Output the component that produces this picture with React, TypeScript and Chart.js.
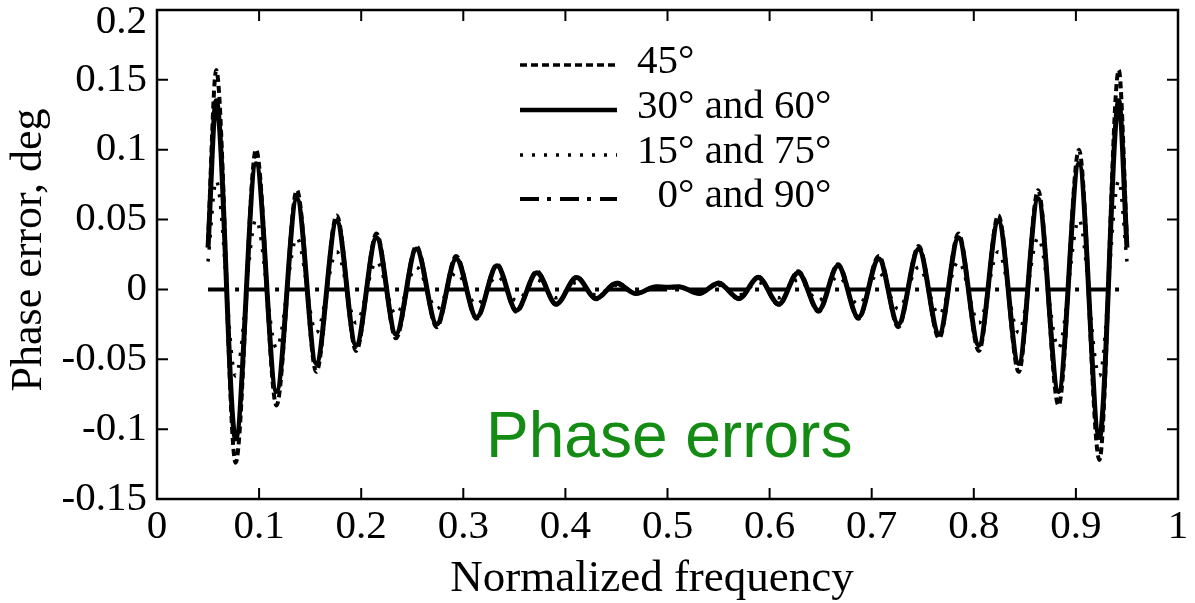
import React, { useEffect, useRef } from 'react';
import { Chart, registerables } from 'chart.js';

Chart.register(...registerables);

// Normalized frequency sample positions (peaks / troughs of the ripple)
const freq = [
  0.05, 0.058, 0.077, 0.097, 0.117, 0.137, 0.156, 0.176, 0.195, 0.215, 0.234, 0.254,
  0.274, 0.293, 0.313, 0.333, 0.352, 0.372, 0.391, 0.411, 0.43, 0.45, 0.469, 0.489, 0.5,
  0.511, 0.531, 0.55, 0.57, 0.589, 0.609, 0.628, 0.648, 0.667, 0.687, 0.707, 0.726,
  0.746, 0.766, 0.785, 0.805, 0.824, 0.844, 0.863, 0.883, 0.903, 0.923, 0.942, 0.95,
];

const err45 = [
  0.035, 0.157, -0.124, 0.1, -0.083, 0.071, -0.059, 0.053, -0.044, 0.04, -0.035, 0.031,
  -0.027, 0.024, -0.021, 0.018, -0.016, 0.013, -0.011, 0.009, -0.007, 0.005, -0.003, 0.002, 0.0015,
  0.002, -0.003, 0.005, -0.007, 0.009, -0.011, 0.013, -0.016, 0.018, -0.021, 0.024, -0.027,
  0.031, -0.035, 0.04, -0.044, 0.053, -0.059, 0.071, -0.083, 0.1, -0.122, 0.157, 0.035,
];

const err30and60 = [
  0.03, 0.135, -0.107, 0.09, -0.073, 0.065, -0.053, 0.049, -0.04, 0.037, -0.032, 0.029,
  -0.025, 0.022, -0.02, 0.017, -0.015, 0.012, -0.0105, 0.0085, -0.0065, 0.0045, -0.003, 0.002, 0.0015,
  0.002, -0.003, 0.0045, -0.0065, 0.0085, -0.0105, 0.012, -0.015, 0.017, -0.02, 0.022, -0.025,
  0.029, -0.032, 0.037, -0.04, 0.049, -0.053, 0.065, -0.073, 0.09, -0.106, 0.135, 0.03,
];

const err15and75 = [
  0.02, 0.078, -0.062, 0.05, -0.042, 0.037, -0.031, 0.027, -0.024, 0.02, -0.018, 0.016,
  -0.014, 0.012, -0.011, 0.0095, -0.008, 0.007, -0.006, 0.005, -0.004, 0.003, -0.002, 0.0012, 0.001,
  0.0012, -0.002, 0.003, -0.004, 0.005, -0.006, 0.007, -0.008, 0.0095, -0.011, 0.012, -0.014,
  0.016, -0.018, 0.02, -0.024, 0.027, -0.031, 0.037, -0.042, 0.05, -0.062, 0.078, 0.02,
];

const freq0and90 = [0.05, 0.95];
const err0and90 = [0, 0];

const xTicks = [0, 0.1, 0.2, 0.3, 0.4, 0.5, 0.6, 0.7, 0.8, 0.9, 1];
const yTicks = [-0.15, -0.1, -0.05, 0, 0.05, 0.1, 0.15, 0.2];

const legendLabels = ['45°', '30° and 60°', '15° and 75°', '  0° and 90°'];

const SERIF = '"Liberation Serif", "Times New Roman", serif';

const DASH45 = [7, 4];
const DOT = [3, 9];
const DASHDOT = [19, 8, 4, 9];

function pts(xs: number[], ys: number[]) {
  return xs.map((x, i) => ({ x, y: ys[i] }));
}

function fmt(v: number) {
  return String(Math.round(v * 100) / 100);
}

const decorPlugin = {
  id: 'decor',
  afterDraw(chart: any) {
    const { ctx, chartArea: a, scales } = chart;
    const x = scales.x;
    const y = scales.y;
    ctx.save();
    // frame
    ctx.strokeStyle = '#000';
    ctx.lineWidth = 2.5;
    ctx.setLineDash([]);
    ctx.strokeRect(a.left, a.top, a.right - a.left, a.bottom - a.top);
    // inward ticks
    ctx.lineWidth = 2;
    const tl = 11;
    ctx.beginPath();
    xTicks.forEach((v) => {
      const px = x.getPixelForValue(v);
      ctx.moveTo(px, a.bottom);
      ctx.lineTo(px, a.bottom - tl);
      ctx.moveTo(px, a.top);
      ctx.lineTo(px, a.top + tl);
    });
    yTicks.forEach((v) => {
      const py = y.getPixelForValue(v);
      ctx.moveTo(a.left, py);
      ctx.lineTo(a.left + tl, py);
      ctx.moveTo(a.right, py);
      ctx.lineTo(a.right - tl, py);
    });
    ctx.stroke();

    // top y tick label, kept inside the figure
    ctx.fillStyle = '#000';
    ctx.font = `41px ${SERIF}`;
    ctx.textAlign = 'right';
    ctx.textBaseline = 'middle';
    ctx.fillText(fmt(yTicks[yTicks.length - 1]), a.left - 10, a.top + 12);

    // legend
    const rows = [65, 110, 155, 199];
    const styles = [
      { dash: DASH45, w: 3.5 },
      { dash: [], w: 4.5 },
      { dash: DOT, w: 3.5 },
      { dash: DASHDOT, w: 4 },
    ];
    ctx.font = `41px ${SERIF}`;
    ctx.textBaseline = 'alphabetic';
    ctx.textAlign = 'left';
    rows.forEach((ry, i) => {
      ctx.lineWidth = styles[i].w;
      ctx.setLineDash(styles[i].dash);
      ctx.beginPath();
      ctx.moveTo(520, ry);
      ctx.lineTo(617, ry);
      ctx.stroke();
      ctx.setLineDash([]);
      ctx.fillText(legendLabels[i], 637, ry + 8);
    });

    // green annotation
    ctx.font = '64px "Liberation Sans", Arial, sans-serif';
    ctx.fillStyle = 'rgb(20,140,20)';
    ctx.fillText('Phase errors', 486, 457);

    // axis titles
    ctx.fillStyle = '#000';
    ctx.font = `45px ${SERIF}`;
    ctx.textAlign = 'center';
    ctx.fillText('Normalized frequency', 652, 591);
    ctx.save();
    ctx.font = `44px ${SERIF}`;
    ctx.translate(41, 250);
    ctx.rotate(-Math.PI / 2);
    ctx.fillText('Phase error, deg', 0, 0);
    ctx.restore();

    ctx.restore();
  },
};

export default function App() {
  const ref = useRef<HTMLCanvasElement | null>(null);
  useEffect(() => {
    if (!ref.current) return;
    const chart = new Chart(ref.current, {
      type: 'line',
      data: {
        datasets: [
          {
            label: '0° and 90°',
            data: pts(freq0and90, err0and90),
            borderColor: '#000',
            borderWidth: 4,
            borderDash: DASHDOT,
            pointRadius: 0,
            fill: false,
          },
          {
            label: '45°',
            data: pts(freq, err45),
            borderColor: '#000',
            borderWidth: 4,
            borderDash: DASH45,
            pointRadius: 0,
            cubicInterpolationMode: 'monotone',
            fill: false,
          },
          {
            label: '30° and 60°',
            data: pts(freq, err30and60),
            borderColor: '#000',
            borderWidth: 5,
            pointRadius: 0,
            cubicInterpolationMode: 'monotone',
            fill: false,
          },
          {
            label: '15° and 75°',
            data: pts(freq, err15and75),
            borderColor: '#000',
            borderWidth: 3.5,
            borderDash: DOT,
            pointRadius: 0,
            cubicInterpolationMode: 'monotone',
            fill: false,
          },
        ],
      },
      options: {
        animation: false,
        responsive: false,
        devicePixelRatio: 1,
        layout: { padding: { left: 0, right: 17, top: 10, bottom: 0 } },
        plugins: { legend: { display: false }, tooltip: { enabled: false } },
        scales: {
          x: {
            type: 'linear',
            min: 0,
            max: 1,
            afterFit: (s: any) => {
              s.height = 104;
              s.paddingLeft = 0;
              s.paddingRight = 0;
            },
            afterBuildTicks: (s: any) => {
              s.ticks = xTicks.map((v) => ({ value: v }));
            },
            grid: { display: false, drawTicks: false },
            border: { display: false },
            ticks: {
              autoSkip: false,
              maxRotation: 0,
              padding: 4,
              color: '#000',
              font: { family: SERIF, size: 41 },
              callback: (v: any) => fmt(Number(v)),
            },
          },
          y: {
            type: 'linear',
            min: -0.15,
            max: 0.2,
            afterFit: (s: any) => {
              s.width = 157;
              s.paddingTop = 0;
              s.paddingBottom = 0;
            },
            afterBuildTicks: (s: any) => {
              s.ticks = yTicks.map((v) => ({ value: v }));
            },
            grid: { display: false, drawTicks: false },
            border: { display: false },
            ticks: {
              autoSkip: false,
              padding: 10,
              color: '#000',
              font: { family: SERIF, size: 41 },
              callback: (v: any) => (Math.abs(Number(v) - 0.2) < 1e-9 ? '' : fmt(Number(v))),
            },
          },
        },
      },
      plugins: [decorPlugin],
    } as any);
    return () => chart.destroy();
  }, []);
  return (
    <div style={{ position: 'absolute', left: 0, top: 0, width: 1195, height: 603, background: '#fff' }}>
      <canvas ref={ref} width={1195} height={603} />
    </div>
  );
}
